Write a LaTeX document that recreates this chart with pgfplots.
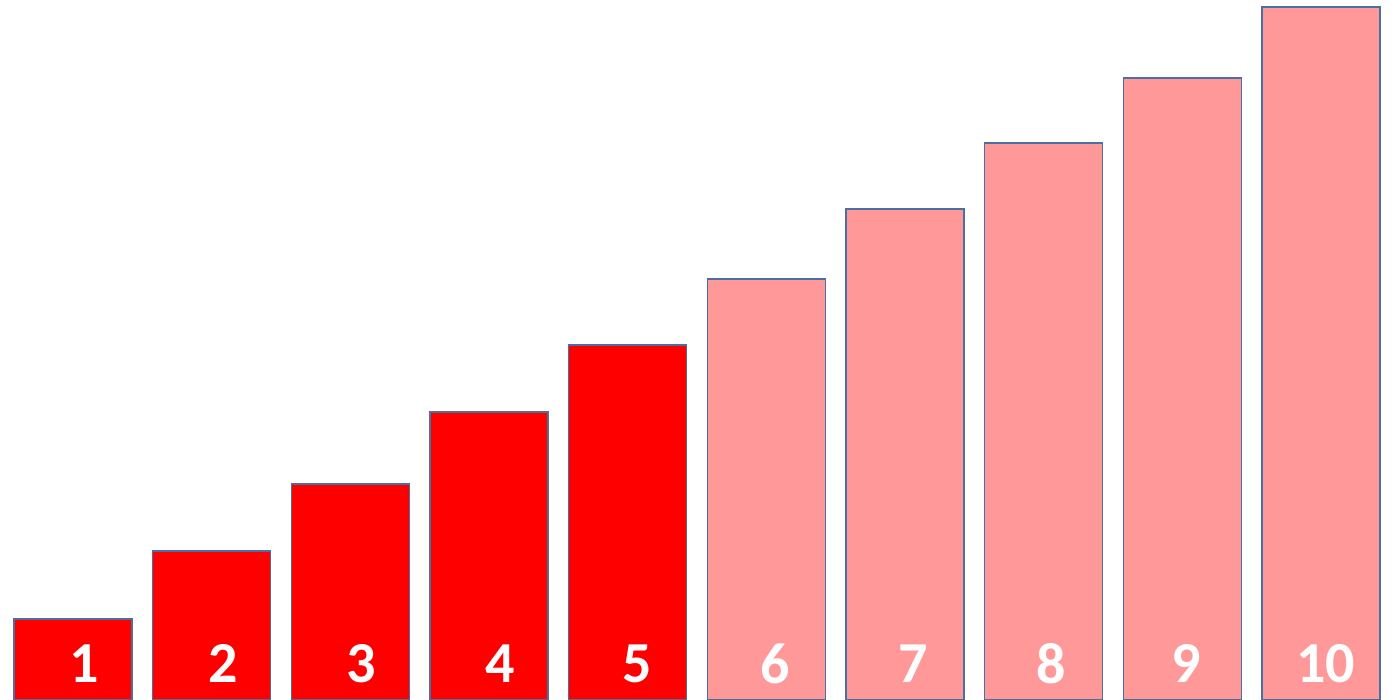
\documentclass[border=0pt]{standalone}
\usepackage{pgfplots}
\pgfplotsset{compat=1.18}
\usepackage{fontspec}
\newfontfamily\labelfont{Carlito}
\definecolor{barred}{HTML}{FF0000}
\definecolor{barpink}{HTML}{FF9999}
\definecolor{edge}{HTML}{4A6FA5}
\begin{document}
\begin{tikzpicture}
\begin{axis}[
  scale only axis,
  width=697.5bp, height=350bp,
  xmin=0.474, xmax=10.534,
  ymin=0, ymax=700,
  hide axis,
  clip=true,
  ybar, bar shift=0pt, bar width=0.851,
]
\addplot[ybar, fill=barred, draw=edge, line width=0.7bp] coordinates {
  (1,81) (2,149) (3,216) (4,288) (5,355)
};
\addplot[ybar, fill=barpink, draw=edge, line width=0.7bp] coordinates {
  (6,421) (7,491) (8,557) (9,622) (10,693)
};
\addplot[only marks, mark=none, draw=none,
  nodes near coords, point meta=explicit symbolic,
  every node near coord/.append style={anchor=center, yshift=0pt, text=white, font=\labelfont\bfseries\fontsize{29bp}{29bp}\selectfont}]
  table[meta=lab] {
x y lab
1.080 36 1
2.082 36 2
3.080 36 3
4.080 36 4
5.068 36 5
6.063 36 6
7.060 36 7
8.055 36 8
9.030 36 9
10.032 36 10
};
\end{axis}
\useasboundingbox (current axis.south west) rectangle (current axis.north east);
\end{tikzpicture}
\end{document}
